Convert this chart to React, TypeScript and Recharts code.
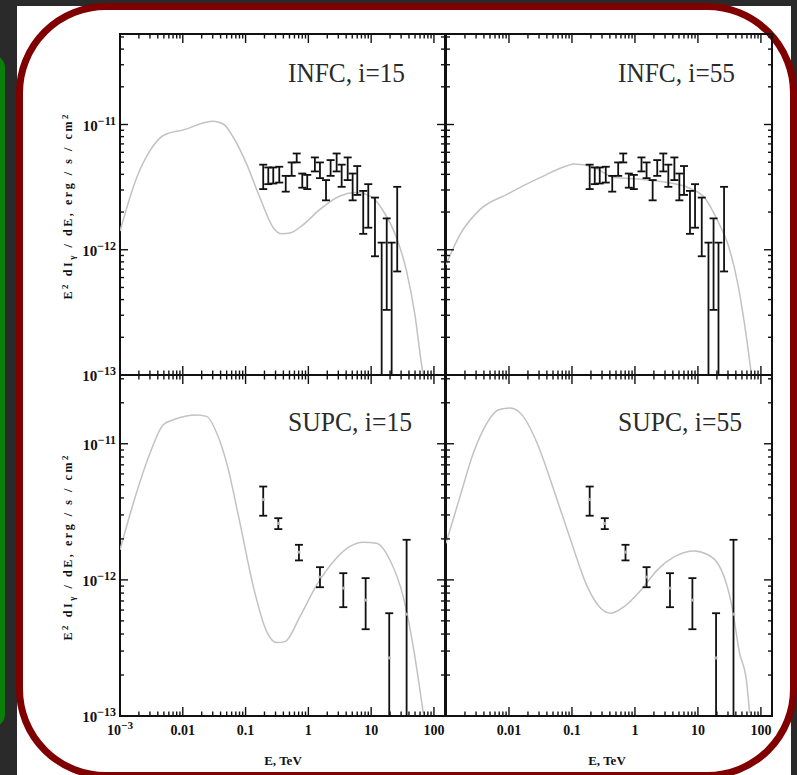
import React from "react"
import { ComposedChart, Line, Scatter, ErrorBar, XAxis, YAxis, ReferenceArea } from "recharts"

const W = 797
const H = 775
const SERIF = '"Liberation Serif", "DejaVu Serif", serif'

const X_DOMAIN: [number, number] = [0.001, 150]
const Y_MIN = 1e-13
const TOP_Y_MAX = 5.28e-11
const BOTTOM_Y_MAX = 3.2e-11

// tick labels
const xMajor = [0.001, 0.01, 0.1, 1, 10, 100]
const xTickLabels = ["10^-3", "0.01", "0.1", "1", "10", "100"]
const yMajor = [1e-13, 1e-12, 1e-11]
const yTickLabels = ["10^-13", "10^-12", "10^-11"]

// model curves, E in TeV, E^2 dI/dE in erg/s/cm^2
const infc15E = [0.001, 0.00185, 0.00301, 0.00489, 0.0102, 0.0306, 0.0442, 0.0637, 0.104, 0.169, 0.276, 0.376, 0.509, 0.83, 1.53, 3.18, 5.87, 9.57, 15.6, 25.5, 36.7, 49.8, 63.7, 67.6]
const infc15F = [1.41e-12, 3.78e-12, 6.18e-12, 8.17e-12, 9.06e-12, 1.06e-11, 1.01e-11, 7.91e-12, 4.83e-12, 2.61e-12, 1.5e-12, 1.34e-12, 1.36e-12, 1.59e-12, 2.1e-12, 2.69e-12, 2.86e-12, 2.69e-12, 2.04e-12, 1.24e-12, 6.71e-13, 3.02e-13, 1.2e-13, 1e-13]

const infc55E = [0.001, 0.00167, 0.00348, 0.00929, 0.0316, 0.0841, 0.107, 0.223, 0.466, 1.24, 3.31, 6.9, 12.7, 20.7, 30.0, 43.3, 55.2, 70.8]
const infc55F = [7.6e-13, 1.32e-12, 2.1e-12, 2.77e-12, 3.78e-12, 4.69e-12, 4.83e-12, 4.54e-12, 3.78e-12, 3.66e-12, 3.44e-12, 3.14e-12, 2.61e-12, 1.69e-12, 1.1e-12, 5.25e-13, 2.51e-13, 1e-13]

const supc15E = [0.001, 0.00163, 0.00301, 0.00489, 0.00706, 0.0166, 0.024, 0.0347, 0.05, 0.0815, 0.133, 0.217, 0.313, 0.424, 0.735, 1.36, 2.49, 4.59, 7.48, 12.2, 19.9, 32.4, 46.8, 67.6]
const supc15F = [1.66e-12, 3.66e-12, 8.55e-12, 1.38e-11, 1.5e-11, 1.63e-11, 1.59e-11, 1.2e-11, 7.21e-12, 2.61e-12, 8.93e-13, 4.17e-13, 3.46e-13, 3.52e-13, 5.37e-13, 9.18e-13, 1.36e-12, 1.76e-12, 1.89e-12, 1.86e-12, 1.4e-12, 7.53e-13, 3.24e-13, 1.05e-13]

const supc55E = [0.001, 0.00167, 0.00272, 0.00446, 0.00682, 0.0105, 0.0161, 0.028, 0.0514, 0.0951, 0.175, 0.286, 0.413, 0.673, 1.25, 2.3, 4.22, 8.79, 14.4, 23.4, 33.9, 45.9, 58.7, 66.2]
const supc55F = [1.86e-12, 4.09e-12, 8.55e-12, 1.42e-11, 1.78e-11, 1.83e-11, 1.63e-11, 1.01e-11, 4.59e-12, 1.97e-12, 8.93e-13, 6.19e-13, 5.69e-13, 6.37e-13, 8.43e-13, 1.19e-12, 1.48e-12, 1.63e-12, 1.53e-12, 1.19e-12, 6.75e-13, 2.89e-13, 1.84e-13, 1.05e-13]

// measured spectra (error bars)
const infcE = [0.191, 0.23, 0.276, 0.344, 0.436, 0.542, 0.652, 0.8, 0.96, 1.27, 1.53, 1.91, 2.26, 2.82, 3.39, 4.23, 5.07, 6.01, 7.48, 9.0, 11.5, 14.7, 17.7, 21.2, 26.0]
const infcLo = [3.05e-12, 3.34e-12, 3.38e-12, 3.44e-12, 2.91e-12, 3.89e-12, 4.98e-12, 3.13e-12, 3.05e-12, 4.22e-12, 3.73e-12, 2.48e-12, 3.89e-12, 4.22e-12, 3.18e-12, 3.6e-12, 2.48e-12, 2.74e-12, 1.34e-12, 1.5e-12, 8.87e-13, 1e-13, 3.31e-13, 1e-13, 6.71e-13]
const infcHi = [4.78e-12, 4.54e-12, 4.54e-12, 4.6e-12, 3.89e-12, 4.98e-12, 5.87e-12, 4.06e-12, 3.96e-12, 5.46e-12, 4.98e-12, 3.6e-12, 5.2e-12, 5.87e-12, 4.78e-12, 5.46e-12, 4.06e-12, 4.66e-12, 2.95e-12, 3.34e-12, 2.61e-12, 1.14e-12, 1.78e-12, 1.14e-12, 3.18e-12]

const supcE = [0.191, 0.332, 0.708, 1.53, 3.6, 8.17, 19.4, 36.7]
const supcMid = [3.89e-12, 2.6e-12, 1.6e-12, 1.05e-12, 8.7e-13, 7.1e-13, 2.67e-13, 5.6e-13]
const supcLo = [2.96e-12, 2.36e-12, 1.39e-12, 8.83e-13, 6.3e-13, 4.34e-13, 1e-13, 1e-13]
const supcHi = [4.85e-12, 2.84e-12, 1.81e-12, 1.24e-12, 1.12e-12, 1.03e-12, 5.69e-13, 1.97e-12]

const withMinors = (majors: number[], max: number) =>
  majors.flatMap((d) => [1, 2, 3, 4, 5, 6, 7, 8, 9].map((m) => m * d)).filter((v) => v <= max * 1.0001)

const majorIndex = (majors: number[], v: number) => majors.findIndex((m) => Math.abs(m - v) / m < 1e-6)

const curve = (es: number[], fs: number[]) => es.map((e, i) => ({ e, f: fs[i] }))

const infcPts = infcE.map((e, i) => {
  const f = Math.sqrt(infcLo[i] * infcHi[i])
  return { e, f, err: [f - infcLo[i], infcHi[i] - f] }
})
const supcPts = supcE.map((e, i) => ({
  e,
  f: supcMid[i],
  err: [supcMid[i] - supcLo[i], supcHi[i] - supcMid[i]],
}))

function PowText({ x, y, anchor, label, size = 12 }: any) {
  const [base, exp] = label.split("^")
  return (
    <text x={x} y={y} textAnchor={anchor} fontFamily={SERIF} fontWeight="bold" fontSize={size} fill="#111">
      {base}
      {exp && (
        <tspan dy={-6} fontSize={size * 0.8}>
          {exp.replace("-", "−")}
        </tspan>
      )}
    </text>
  )
}

function XTick(props: any) {
  const { x, y, payload, plotH, labelFrom } = props
  const i = majorIndex(xMajor, payload.value)
  const len = i >= 0 ? 9 : 4.5
  return (
    <g>
      <line x1={x} x2={x} y1={y} y2={y - len} stroke="#111" strokeWidth={1.4} />
      <line x1={x} x2={x} y1={y - plotH} y2={y - plotH + len} stroke="#111" strokeWidth={1.4} />
      {labelFrom >= 0 && i >= labelFrom && <PowText x={x} y={y + 19} anchor="middle" label={xTickLabels[i]} size={14} />}
    </g>
  )
}

function YTick(props: any) {
  const { x, y, payload, plotW, labels } = props
  const i = majorIndex(yMajor, payload.value)
  const len = i >= 0 ? 8 : 4
  return (
    <g>
      <line x1={x} x2={x + len} y1={y} y2={y} stroke="#111" strokeWidth={1.4} />
      <line x1={x + plotW} x2={x + plotW - len} y1={y} y2={y} stroke="#111" strokeWidth={1.4} />
      {labels && i >= 0 && <PowText x={x - 4} y={y + 6} anchor="end" label={yTickLabels[i]} size={15} />}
    </g>
  )
}

const PLOT_H = 341

function Panel({ left, top, plotW, yMax, line, pts, labelFrom, yLabels, dots }: any) {
  const xTicks = withMinors(xMajor, X_DOMAIN[1])
  const yTicks = withMinors(yMajor, yMax)
  return (
    <div style={{ position: "absolute", left: 0, top: 0 }}>
      <ComposedChart
        width={W}
        height={H}
        margin={{ top, left: left - 1, right: W - left - plotW, bottom: H - top - PLOT_H - 1 }}
      >
        <XAxis
          dataKey="e"
          type="number"
          scale="log"
          domain={X_DOMAIN}
          allowDataOverflow
          ticks={xTicks}
          interval={0}
          height={1}
          tickSize={0}
          tickMargin={0}
          axisLine={false}
          tickLine={false}
          tick={(p: any) => <XTick {...p} plotH={PLOT_H} labelFrom={labelFrom} />}
        />
        <YAxis
          dataKey="f"
          type="number"
          scale="log"
          domain={[Y_MIN, yMax]}
          allowDataOverflow
          ticks={yTicks}
          interval={0}
          width={1}
          tickSize={0}
          tickMargin={0}
          axisLine={false}
          tickLine={false}
          tick={(p: any) => <YTick {...p} plotW={plotW} labels={yLabels} />}
        />
        <ReferenceArea x1={X_DOMAIN[0]} x2={X_DOMAIN[1]} y1={Y_MIN} y2={yMax} fill="none" stroke="#111" strokeWidth={2} ifOverflow="visible" />
        <Line
          data={line}
          dataKey="f"
          type="monotone"
          stroke="#c2c2c2"
          strokeWidth={1.5}
          dot={false}
          isAnimationActive={false}
        />
        <Scatter
          data={pts}
          isAnimationActive={false}
          shape={(p: any) => (dots ? <circle cx={p.cx} cy={p.cy} r={1.6} fill="#b5b5b5" /> : <g />)}
        >
          <ErrorBar dataKey="err" direction="y" width={4} stroke="#111" strokeWidth={1.8} />
        </Scatter>
      </ComposedChart>
    </div>
  )
}

function YTitle({ cy }: { cy: number }) {
  return (
    <text
      transform={`translate(72 ${cy}) rotate(-90)`}
      textAnchor="middle"
      fontFamily={SERIF}
      fontWeight="bold"
      fontSize={12}
      fill="#111"
      textLength={185}
      lengthAdjust="spacing"
    >
      E<tspan dy={-4} fontSize={9}>2</tspan>
      <tspan dy={4}> dI</tspan>
      <tspan dy={3} fontSize={9}>γ</tspan>
      <tspan dy={-3}> / dE, erg / s / cm</tspan>
      <tspan dy={-4} fontSize={9}>2</tspan>
    </text>
  )
}

export default function App() {
  const titles = [
    { text: "INFC, i=15", x: 288, y: 82, w: 117 },
    { text: "INFC, i=55", x: 618, y: 82, w: 117 },
    { text: "SUPC, i=15", x: 288, y: 431, w: 124 },
    { text: "SUPC, i=55", x: 618, y: 431, w: 124 },
  ]
  return (
    <div style={{ position: "absolute", left: 0, top: 0, width: W, height: H, overflow: "hidden", background: "#2a2a2a" }}>
      <div style={{ position: "absolute", left: -20, top: 55, width: 25, height: 672, borderRadius: 18, background: "#0a7f0a" }} />
      <div style={{ position: "absolute", left: 17, top: 6, width: 774, height: H, background: "#fff" }} />
      <div
        style={{
          position: "absolute",
          left: 16,
          top: 3,
          width: 781,
          height: 776,
          boxSizing: "border-box",
          border: "7px solid #800000",
          borderRadius: 90,
        }}
      />
      <Panel left={120} top={34} plotW={325} yMax={TOP_Y_MAX} line={curve(infc15E, infc15F)} pts={infcPts} labelFrom={-1} yLabels dots={false} />
      <Panel left={446} top={34} plotW={326} yMax={TOP_Y_MAX} line={curve(infc55E, infc55F)} pts={infcPts} labelFrom={-1} yLabels={false} dots={false} />
      <Panel left={120} top={375} plotW={325} yMax={BOTTOM_Y_MAX} line={curve(supc15E, supc15F)} pts={supcPts} labelFrom={0} yLabels dots />
      <Panel left={446} top={375} plotW={326} yMax={BOTTOM_Y_MAX} line={curve(supc55E, supc55F)} pts={supcPts} labelFrom={1} yLabels={false} dots />
      <svg width={W} height={H} style={{ position: "absolute", left: 0, top: 0 }}>
        {titles.map((t) => (
          <text key={t.text} x={t.x} y={t.y} fontFamily={SERIF} fontSize={28} fill="#2a2a2a" textLength={t.w} lengthAdjust="spacingAndGlyphs">
            {t.text}
          </text>
        ))}
        <YTitle cy={207} />
        <YTitle cy={548} />
        <text x={283} y={765} textAnchor="middle" fontFamily={SERIF} fontWeight="bold" fontSize={13} fill="#111">E, TeV</text>
        <text x={607} y={765} textAnchor="middle" fontFamily={SERIF} fontWeight="bold" fontSize={13} fill="#111">E, TeV</text>
      </svg>
    </div>
  )
}
